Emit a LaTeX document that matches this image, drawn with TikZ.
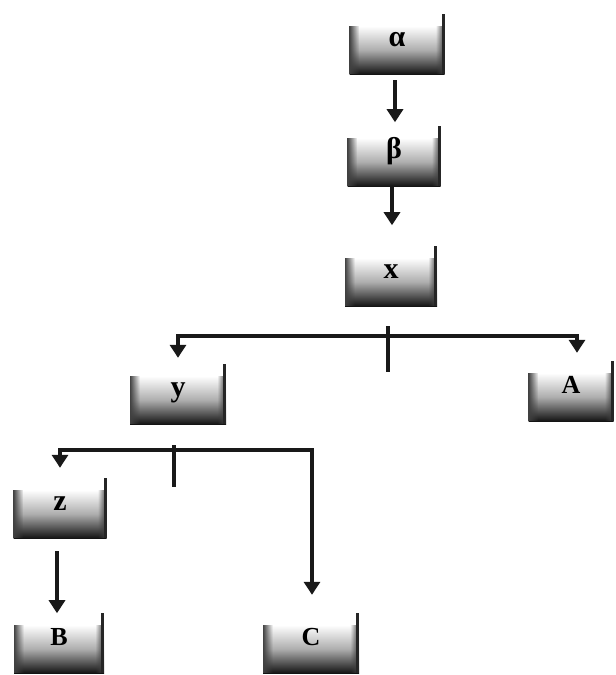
\documentclass[tikz,border=0pt]{standalone}
\usepackage{fontspec}
\setmainfont{Liberation Serif}
\usetikzlibrary{arrows.meta,fadings}
\tikzset{
  boxnode/.style={minimum height=48pt, inner sep=0pt,
    top color=white, bottom color=black!92, middle color=black!32,
    font=\fontsize{26}{28}\selectfont\bfseries, text height=12pt, text depth=20pt},
  lowtext/.style={font=\fontsize{30}{32}\selectfont\bfseries},
  rimline/.style={draw=black!85, line width=3pt},
  conn/.style={line width=3.5pt, draw=black!90},
  arr/.style={conn, -{Triangle[width=16pt,length=13pt]}}
}
\begin{document}
\begin{tikzpicture}[x=1pt,y=-1pt]
\useasboundingbox (0,0) rectangle (616,675);

\node[boxnode, lowtext, minimum width=95pt] (al) at (397,50) {α};
\node[boxnode, lowtext, minimum width=93pt] (be) at (394,162) {β};
\node[boxnode, lowtext, minimum width=92pt] (xx) at (391,282) {x};
\node[boxnode, lowtext, minimum width=96pt] (yy) at (178,400) {y};
\node[boxnode, minimum width=85pt] (aa) at (571,397) {A};
\node[boxnode, lowtext, minimum width=93pt] (zz) at (60,514) {z};
\node[boxnode, minimum width=90pt] (bb) at (59,649) {B};
\node[boxnode, minimum width=96pt] (cc) at (311,649) {C};

\foreach \n in {al,be,xx,yy,aa,zz,bb,cc}{
  \fill[black!75, path fading=east] (\n.south west) rectangle ([xshift=10pt]\n.north west);
  \fill[black!75, path fading=west] (\n.south east) rectangle ([xshift=-9pt]\n.north east);
  \draw[rimline] ([xshift=-1.5pt]\n.south east) -- ([xshift=-1.5pt,yshift=12pt]\n.north east);
}

\draw[arr] ([xshift=-2pt,yshift=-6pt]al.south) -- ++(0,42);
\draw[arr] ([xshift=-2pt]be.south) -- ++(0,39);

\coordinate (xbar) at (388,336);
\draw[conn] ([yshift=10pt]xbar) -- ([yshift=-36pt]xbar);
\draw[arr] (xbar) -| ([yshift=18pt]yy.north);
\draw[arr] (xbar) -| ([xshift=6pt,yshift=20pt]aa.north);

\coordinate (ybar) at (174,450);
\draw[conn] ([yshift=5pt]ybar) -- ([yshift=-37pt]ybar);
\draw[arr] (ybar) -| ([yshift=22pt]zz.north);
\draw[arr] (ybar) -| ([xshift=1pt,yshift=30pt]cc.north);

\draw[arr] ([xshift=-3pt,yshift=-13pt]zz.south) -- ++(0,62);
\end{tikzpicture}
\end{document}
